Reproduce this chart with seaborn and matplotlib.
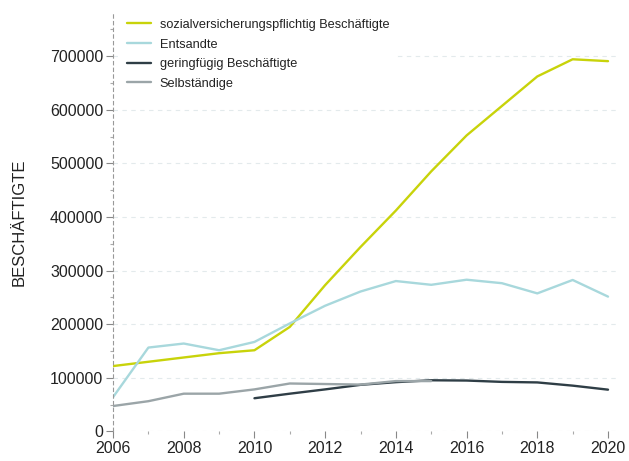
import numpy as np
import pandas as pd
import matplotlib
matplotlib.use('Agg')
import matplotlib.pyplot as plt
import seaborn as sns
from matplotlib.ticker import MultipleLocator

# Beschäftigte nach Art, 2006-2020
years = list(range(2006, 2021))
nan = np.nan
sozial = [122000, 130000, 138000, 146000, 151500, 195000, 273000, 344000,
          412000, 485000, 552000, 607000, 662000, 694000, 690500]
entsandte = [64000, 156500, 164000, 151500, 167000, 201500, 234500, 261000,
             280500, 273500, 283000, 276500, 257500, 282500, 251500]
geringfuegig = [nan, nan, nan, nan, 62000, 70500, 78500, 87000,
                92000, 95500, 95000, 92500, 91500, 85500, 78000]
selbstaendige = [47500, 56500, 70500, 70500, 78500, 89500, 88500, 87500,
                 94000, 94000, nan, nan, nan, nan, nan]

labels = ['sozialversicherungspflichtig Beschäftigte', 'Entsandte',
          'geringfügig Beschäftigte', 'Selbständige']
colors = ['#c8d30a', '#a8d8dc', '#2f3e46', '#9ba5a8']

df = pd.DataFrame({
    'Jahr': years * 4,
    'Wert': sozial + entsandte + geringfuegig + selbstaendige,
    'Gruppe': [l for l in labels for _ in years],
}).dropna()

sns.set_style('white')
plt.rcParams['font.family'] = ['Liberation Sans', 'DejaVu Sans']

fig = plt.figure(figsize=(6.29, 4.61), dpi=100)
ax = fig.add_axes([0.1797, 0.064, 0.8038, 0.9098])

sns.lineplot(data=df, x='Jahr', y='Wert', hue='Gruppe', hue_order=labels,
             palette=colors, linewidth=1.7, ax=ax)

ax.set_xlim(2006, 2020.3)
ax.set_ylim(0, 782000)

ax.xaxis.set_major_locator(MultipleLocator(2))
ax.xaxis.set_minor_locator(MultipleLocator(1))
ax.yaxis.set_major_locator(MultipleLocator(100000))
ax.yaxis.set_minor_locator(MultipleLocator(50000))

ax.tick_params(axis='both', which='major', labelsize=11.5, colors='#888888',
               labelcolor='#222222', length=5, width=0.8)
ax.tick_params(axis='both', which='minor', colors='#aaaaaa', length=2.5, width=0.8)
ax.tick_params(axis='x', which='both', bottom=True, pad=2)
ax.tick_params(axis='y', which='both', left=True, pad=2)

for s in ['top', 'right', 'bottom']:
    ax.spines[s].set_visible(False)
ax.spines['left'].set_linestyle((0, (3, 3)))
ax.spines['left'].set_color('#999999')
ax.spines['left'].set_linewidth(0.8)

ax.grid(axis='y', which='major', linestyle=(0, (4, 4)), color='#e3eaec', linewidth=0.8)
ax.set_axisbelow(True)

ax.set_xlabel('')
ax.set_ylabel('BESCHÄFTIGTE', fontsize=12, color='#222222')
ax.yaxis.set_label_coords(-0.170, 0.5)

leg = ax.legend(loc='upper left', bbox_to_anchor=(0.193, 0.970),
                bbox_transform=fig.transFigure, fontsize=9.2, frameon=True,
                fancybox=False, borderpad=0.4, handlelength=1.9,
                handletextpad=0.7, labelspacing=0.6, borderaxespad=0)
leg.get_frame().set_edgecolor('none')
leg.get_frame().set_facecolor('white')
leg.get_frame().set_alpha(1)
for t in leg.get_texts():
    t.set_color('#222222')

fig.savefig('out.png', dpi=100)
